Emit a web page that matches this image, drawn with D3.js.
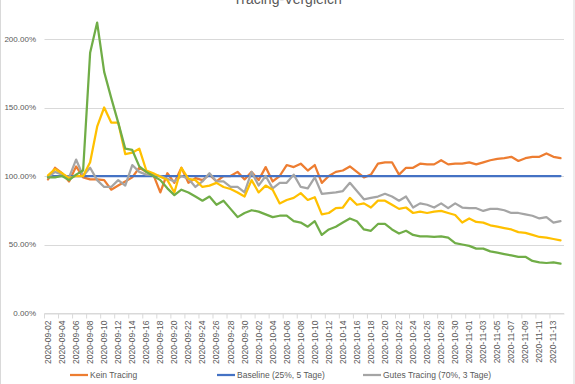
<!DOCTYPE html>
<html>
<head>
<meta charset="utf-8">
<script src="https://cdn.jsdelivr.net/npm/d3@7"></script>
<style>
  body { margin: 0; background: #fff; }
  svg { display: block; font-family: "Liberation Sans", Arial, sans-serif; }
</style>
</head>
<body>
<div id="vis"></div>
<script>
const W = 575, H = 384;
const margin = {top: 39, right: 11, bottom: 71, left: 44.5};

const dates = [
  '2020-09-02','2020-09-03','2020-09-04','2020-09-05','2020-09-06','2020-09-07','2020-09-08','2020-09-09','2020-09-10','2020-09-11',
  '2020-09-12','2020-09-13','2020-09-14','2020-09-15','2020-09-16','2020-09-17','2020-09-18','2020-09-19','2020-09-20','2020-09-21',
  '2020-09-22','2020-09-23','2020-09-24','2020-09-25','2020-09-26','2020-09-27','2020-09-28','2020-09-29','2020-09-30','2020-10-01',
  '2020-10-02','2020-10-03','2020-10-04','2020-10-05','2020-10-06','2020-10-07','2020-10-08','2020-10-09','2020-10-10','2020-10-11',
  '2020-10-12','2020-10-13','2020-10-14','2020-10-15','2020-10-16','2020-10-17','2020-10-18','2020-10-19','2020-10-20','2020-10-21',
  '2020-10-22','2020-10-23','2020-10-24','2020-10-25','2020-10-26','2020-10-27','2020-10-28','2020-10-29','2020-10-30','2020-10-31',
  '2020-11-01','2020-11-02','2020-11-03','2020-11-04','2020-11-05','2020-11-06','2020-11-07','2020-11-08','2020-11-09','2020-11-10',
  '2020-11-11','2020-11-12','2020-11-13','2020-11-14'
]

// values in percent
const keinTracing = [
  97.5, 106, 102, 96, 107, 99, 97.5, 97.5, 97, 90,
  93, 96, 99, 106, 103, 101, 88, 102, 95, 106,
  95, 98.5, 97, 101, 96, 100, 100, 103, 97.5, 103,
  97, 106.5, 96, 100, 108, 106.5, 109, 104, 108, 95,
  100, 103, 104, 107, 103, 99, 101, 109, 110, 110,
  101, 106, 106, 109, 108.5, 108.5, 111.5, 108.5, 109, 109,
  110, 108.5, 110, 111.5, 112.5, 113, 114, 111, 113, 114,
  114, 116.5, 114, 113
]
const baseline = [
  100, 100, 100, 100, 100, 100, 100, 100, 100, 100,
  100, 100, 100, 100, 100, 100, 100, 100, 100, 100,
  100, 100, 100, 100, 100, 100, 100, 100, 100, 100,
  100, 100, 100, 100, 100, 100, 100, 100, 100, 100,
  100, 100, 100, 100, 100, 100, 100, 100, 100, 100,
  100, 100, 100, 100, 100, 100, 100, 100, 100, 100,
  100, 100, 100, 100, 100, 100, 100, 100, 100, 100,
  100, 100, 100, 100
]
const gutesTracing = [
  99, 103, 101, 99, 112, 100, 106, 97, 92, 92,
  97, 93, 108, 103, 101, 101, 100, 98, 96, 100,
  98, 92, 96, 102, 96, 96, 92, 92, 88, 103,
  93, 100, 91, 95, 95, 101, 92, 91, 99, 87,
  87.5, 88, 89, 95, 89, 83, 84, 85, 87, 85,
  82, 85, 77, 80, 79, 77, 80, 76.5, 80, 77,
  76.5, 76.5, 74.5, 76, 76, 75, 73, 73, 72, 71,
  69, 70, 66, 67
]
const gelbeReihe = [
  100.5, 105, 102, 98.5, 100, 100, 110, 136, 150, 139,
  139, 116, 117, 120, 104, 102, 99.5, 97, 88, 106,
  98, 97, 92, 93, 95, 92, 90.5, 88, 85, 97,
  88, 93, 90, 80, 82.5, 84, 87.5, 82.5, 84.5, 72,
  73, 76.5, 77, 84, 79, 80, 77, 82, 82, 79,
  76, 77, 73, 74, 73, 74, 74.5, 73, 71.5, 66,
  69, 66.5, 66, 64, 63, 62, 61, 59, 58.5, 57,
  55.5, 55, 54, 53
]
const grueneReihe = [
  99, 99, 100, 97, 101, 104, 190, 212, 176, 157,
  139, 120, 119, 107, 103, 100, 97, 91, 86, 90,
  88, 85, 82, 85, 79, 82, 76, 70, 73, 75,
  74, 72, 70, 71, 71, 67, 66, 63, 67, 57,
  61, 63, 66, 69, 67, 61, 60, 65, 65, 61,
  58, 60, 57, 56, 56, 55.5, 56, 55, 51, 50,
  49, 47, 47, 45, 44, 43, 42, 41, 41, 38,
  37, 36.5, 37, 36
]

const seriesNames = ['Kein Tracing', 'Baseline (25%, 5 Tage)', 'Gutes Tracing (70%, 3 Tage)', 'Reihe 4', 'Reihe 5']
const seriesColors = ['#ED7D31', '#4472C4', '#A5A5A5', '#FFC000', '#70AD47']
const yTicks = [0, 50, 100, 150, 200]
const legendShown = 3 // the other legend entries are cut off in the picture

const series = [keinTracing, baseline, gutesTracing, gelbeReihe, grueneReihe].map((vals, k) => ({
  name: seriesNames[k],
  color: seriesColors[k],
  values: vals.map((v, i) => ({date: dates[i], value: v}))
}))

const svg = d3.select('#vis')
  .append('svg')
  .attr('width', W)
  .attr('height', H)

// outer chart border (cropped chart)
svg.append('rect')
  .attr('x', 0.5).attr('y', -10)
  .attr('width', W - 1.5).attr('height', H + 20)
  .attr('fill', 'none')
  .attr('stroke', '#D9D9D9')

// title, cut off at the top like in the picture
svg.append('text')
  .attr('x', W / 2)
  .attr('y', 4)
  .attr('text-anchor', 'middle')
  .attr('fill', '#595959')
  .style('font-size', '14px')
  .text('Tracing-Vergleich')

const xScale = d3.scaleBand()
  .domain(dates)
  .range([margin.left, W - margin.right])
  .padding(0)

const yScale = d3.scaleLinear()
  .domain([0, 200])
  .range([H - margin.bottom, margin.top])

// gridlines
svg.append('g')
  .selectAll('line')
  .data(yTicks)
  .join('line')
  .attr('x1', margin.left)
  .attr('x2', W - margin.right)
  .attr('y1', d => Math.round(yScale(d)) + 0.5)
  .attr('y2', d => Math.round(yScale(d)) + 0.5)
  .attr('stroke', '#D9D9D9')
  .attr('stroke-width', 1)

// y labels
svg.append('g')
  .selectAll('text')
  .data(yTicks)
  .join('text')
  .attr('x', 36)
  .attr('y', d => yScale(d))
  .attr('dy', '0.35em')
  .attr('text-anchor', 'end')
  .attr('fill', '#595959')
  .style('font-size', '8px')
  .text(d => d3.format('.2%')(d / 100))

// x axis
const xAxis = svg.append('g')
  .attr('transform', `translate(0,${Math.round(yScale(0)) + 0.5})`)
  .call(d3.axisBottom(xScale)
    .tickValues(dates.filter((d, i) => i % 2 === 0))
    .tickSize(5)
    .tickSizeOuter(0))

xAxis.select('.domain').attr('stroke', '#D9D9D9')
xAxis.selectAll('.tick line')
  .attr('stroke', '#D9D9D9')
  .attr('x1', -xScale.bandwidth() / 2)
  .attr('x2', -xScale.bandwidth() / 2)
xAxis.selectAll('.tick text')
  .attr('transform', 'rotate(-90)')
  .attr('text-anchor', 'end')
  .attr('x', -7)
  .attr('y', 0)
  .attr('dy', '0.35em')
  .attr('fill', '#595959')
  .style('font-size', '8.5px')

// lines
const line = d3.line()
  .x(d => xScale(d.date) + xScale.bandwidth() / 2)
  .y(d => yScale(d.value))

svg.append('g')
  .selectAll('path')
  .data(series)
  .join('path')
  .attr('d', d => line(d.values))
  .attr('fill', 'none')
  .attr('stroke', d => d.color)
  .attr('stroke-width', 2.25)
  .attr('stroke-linejoin', 'round')
  .attr('stroke-linecap', 'round')

// legend
const legendX = [70, 217, 363]
const legend = svg.append('g')
  .selectAll('g')
  .data(series.slice(0, legendShown))
  .join('g')
  .attr('transform', (d, i) => `translate(${legendX[i]},375)`)

legend.append('line')
  .attr('x1', 0).attr('x2', 18)
  .attr('stroke', d => d.color)
  .attr('stroke-width', 2.25)

legend.append('text')
  .attr('x', 20)
  .attr('dy', '0.35em')
  .attr('fill', '#595959')
  .style('font-size', '8.5px')
  .text(d => d.name)
</script>
</body>
</html>
